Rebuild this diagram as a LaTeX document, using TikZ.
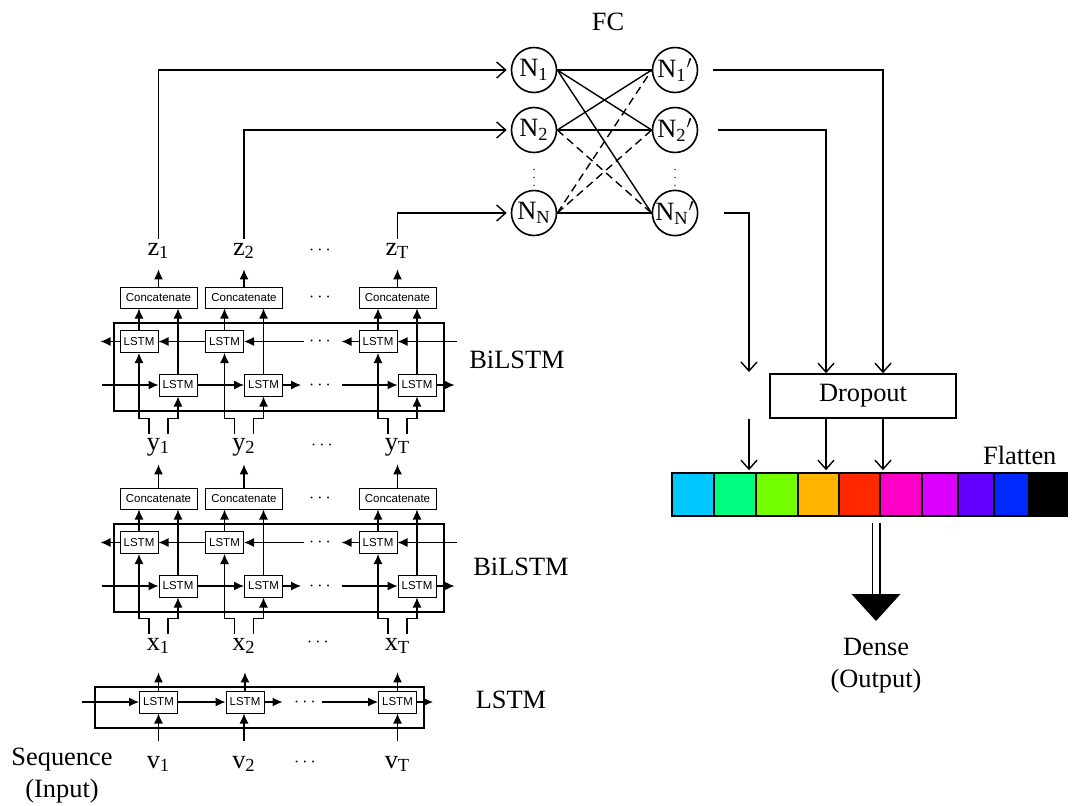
\documentclass[tikz,border=0pt]{standalone}
\usepackage{fontspec}
\setmainfont{Liberation Serif}
\setsansfont{Liberation Sans}
\usetikzlibrary{positioning,arrows.meta}
\definecolor{sw1}{RGB}{0,200,255}
\definecolor{sw2}{RGB}{0,255,128}
\definecolor{sw3}{RGB}{115,255,0}
\definecolor{sw4}{RGB}{255,180,0}
\definecolor{sw5}{RGB}{255,40,0}
\definecolor{sw6}{RGB}{255,0,200}
\definecolor{sw7}{RGB}{220,0,255}
\definecolor{sw8}{RGB}{100,0,255}
\definecolor{sw9}{RGB}{0,40,255}
\definecolor{sw10}{RGB}{0,0,0}

\begin{document}
\begin{tikzpicture}[x=0.5pt, y=-0.5pt, font=\fontsize{13.2}{16}\selectfont,
  lstm/.style={draw, line width=0.5pt, font=\sffamily\fontsize{5.75}{7}\selectfont, minimum width=19pt, minimum height=11pt, inner sep=0pt},
  cat/.style={lstm, minimum width=38.5pt, minimum height=10.5pt},
  lbl/.style={anchor=base, inner xsep=0pt, inner ysep=2pt, text height=6pt, text depth=2pt},
  dots/.style={font=\fontsize{9}{10}\selectfont, inner sep=0pt},
  frame/.style={draw, line width=1pt},
  arr/.style={line width=0.6pt, -{Latex[length=5pt,width=4.5pt]}},
  fc/.style={line width=0.7pt},
  fcdash/.style={dash pattern=on 4pt off 2.5pt},
  fcarr/.style={fc, -{Straight Barb[length=4.5pt,width=8pt]}},
  neuron/.style={draw, circle, line width=0.8pt, minimum size=22.5pt, inner sep=0pt}]
\useasboundingbox (0,0) rectangle (1072,805);

\foreach \cx/\i/\s in {158.5/1/1, 244/2/2, 397.5/3/T}{
  \node[lbl] (z\i) at (\cx,255) {z\textsubscript{\s}};
  \node[lbl] (y\i) at (\cx,450) {y\textsubscript{\s}};
  \node[lbl] (x\i) at (\cx,650) {x\textsubscript{\s}};
  \node[lbl] (v\i) at (\cx,768) {v\textsubscript{\s}};
}
\foreach \xx/\yy [count=\k] in {320/250, 322/445, 318/642, 305/762}
  \node[dots] (dl\k) at (\xx,\yy) {$\cdots$};

\foreach \off/\n/\t/\s in {0/a/z/y, 201/b/y/x}{
  \draw[frame] (114,323+\off) rectangle (444,411+\off);
  \foreach \cx/\i in {158.5/1, 244/2, 397.5/3}{
    \node[cat] (cat\n\i) at (\cx,297.5+\off) {Concatenate};
    \node[lstm] (bw\n\i) at (\cx-19.5,341.5+\off) {LSTM};
    \node[lstm] (fw\n\i) at (\cx+19.5,385+\off) {LSTM};
    \draw[arr] (bw\n\i.north) -- (bw\n\i.north |- cat\n\i.south);
    \draw[arr] (fw\n\i.north) -- (fw\n\i.north |- cat\n\i.south);
    \draw[arr, shorten >=3pt] (cat\n\i.north) -- (\t\i.south);
    \draw[arr] ([xshift=-4.75pt]\s\i.north) -- ++(0,-15) -| (bw\n\i.south);
    \draw[arr] ([xshift=4.75pt]\s\i.north) -- ++(0,-15) -| (fw\n\i.south);
  }
  \draw[arr] (bw\n2.west) -- (bw\n1.east);
  \draw[arr] (bw\n1.west) -- ++(-19,0);
  \draw[arr] (bw\n2.east) ++(60,0) -- (bw\n2.east);
  \draw[arr] (bw\n3.west) -- ++(-17,0);
  \draw[arr] (bw\n3.east) ++(59,0) -- (bw\n3.east);
  \draw[arr] (fw\n1.west) ++(-57,0) -- (fw\n1.west);
  \draw[arr] (fw\n1.east) -- (fw\n2.west);
  \draw[arr] (fw\n2.east) -- ++(18,0);
  \draw[arr] (fw\n3.west) ++(-56,0) -- (fw\n3.west);
  \draw[arr] (fw\n3.east) -- ++(18,0);
  \node[dots] (dc\n) at (320,297.5+\off) {$\cdots$};
  \node[dots] (db\n) at (320,341.5+\off) {$\cdots$};
  \node[dots] (df\n) at (320,385+\off) {$\cdots$};
}

\draw[frame] (95,687) rectangle (424,728);
\foreach \cx/\i in {158.5/1, 245/2, 397.5/3}{
  \node[lstm] (lstm\i) at (\cx,702) {LSTM};
  \draw[arr, shorten <=5.5pt] (v\i.north) -- (v\i.north |- lstm\i.south);
  \draw[arr, shorten >=7pt] (lstm\i.north) -- (lstm\i.north |- x\i.south);
}
\draw[arr] (lstm1.west) ++(-57,0) -- (lstm1.west);
\draw[arr] (lstm1.east) -- (lstm2.west);
\draw[arr] (lstm2.east) -- ++(18,0);
\draw[arr] (lstm3.west) ++(-56,0) -- (lstm3.west);
\draw[arr] (lstm3.east) -- ++(16,0);
\node[dots] (du) at (305,702) {$\cdots$};

\node (bil1) at (517,360) {BiLSTM};
\node (bil2) at (521,567) {BiLSTM};
\node (uni) at (511,700) {LSTM};
\node[align=center] (seq) at (62,776) {Sequence\\(Input)};

\node (fclbl) at (608,22) {FC};
\foreach \yy/\i/\s in {70/1/1, 130/2/2, 213/N/N}{
  \node[neuron] (n\i) at (534,\yy) {N\textsubscript{\s}};
  \node[neuron] (p\i) at (675,\yy) {N\textsubscript{\s}$'$};
}
\node[dots, font=\fontsize{6}{7}\selectfont] (vdn) at (534,172) {$\vdots$};
\node[dots, font=\fontsize{6}{7}\selectfont] (vdp) at (675,172) {$\vdots$};
\foreach \a/\b/\st in {1/1/solid, 1/2/solid, 1/N/solid, 2/1/solid, 2/2/solid, 2/N/fcdash, N/1/fcdash, N/2/fcdash, N/N/solid}
  \draw[fc, \st] (n\a.east) -- (p\b.west);
\draw[fcarr, shorten >=2pt] (z1.north) |- (n1.west);
\draw[fcarr, shorten >=2pt] (z2.north) |- (n2.west);
\draw[fcarr, shorten >=2pt] (z3.north) |- (nN.west);

\foreach \xa/\xb/\col in {672/714/sw1, 714/756/sw2, 756/798/sw3, 798/839/sw4, 839/880/sw5, 880/922/sw6, 922/958/sw7, 958/994/sw8, 994/1029/sw9, 1029/1067/sw10}
  \filldraw[fill=\col, line width=0.6pt] (\xa,473) rectangle (\xb,516);
\node[draw, line width=0.8pt, minimum width=197.5pt, minimum height=21.5pt, inner sep=0pt] (flat) at (869.5,494.5) {};
\node[above left=3.5pt and 5.5pt of flat.north east, inner sep=0pt] (flatlbl) {Flatten};

\node[draw, line width=0.8pt, minimum width=93pt, minimum height=22pt] (drop) at (863,396) {Dropout};
\coordinate (gapT) at (749,372);
\coordinate (gapB) at (749,419);
\coordinate (dl) at ([xshift=-18.5pt]drop.south);
\coordinate (dr) at ([xshift=10pt]drop.south);
\draw[fcarr, shorten <=7.5pt] (p1.east) -| ([xshift=10pt]drop.north);
\draw[fcarr, shorten <=10pt] (p2.east) -| ([xshift=-18.5pt]drop.north);
\draw[fcarr, shorten <=13pt] (pN.east) -| (gapT);
\draw[fcarr, shorten >=1pt] (gapB) -- (gapB |- flat.north);
\draw[fcarr, shorten >=1pt] (dl) -- (dl |- flat.north);
\draw[fcarr, shorten >=1pt] (dr) -- (dr |- flat.north);

\coordinate (tri) at (876,594);
\draw[double, double distance=3.4pt, line width=0.55pt, shorten <=3pt] (tri |- flat.south) -- (tri);
\fill (tri) ++(-24.5,0) -- ++(49,0) -- ++(-24.5,27) -- cycle;
\node[align=center] (dense) at (876,666) {Dense\\(Output)};
\end{tikzpicture}
\end{document}
